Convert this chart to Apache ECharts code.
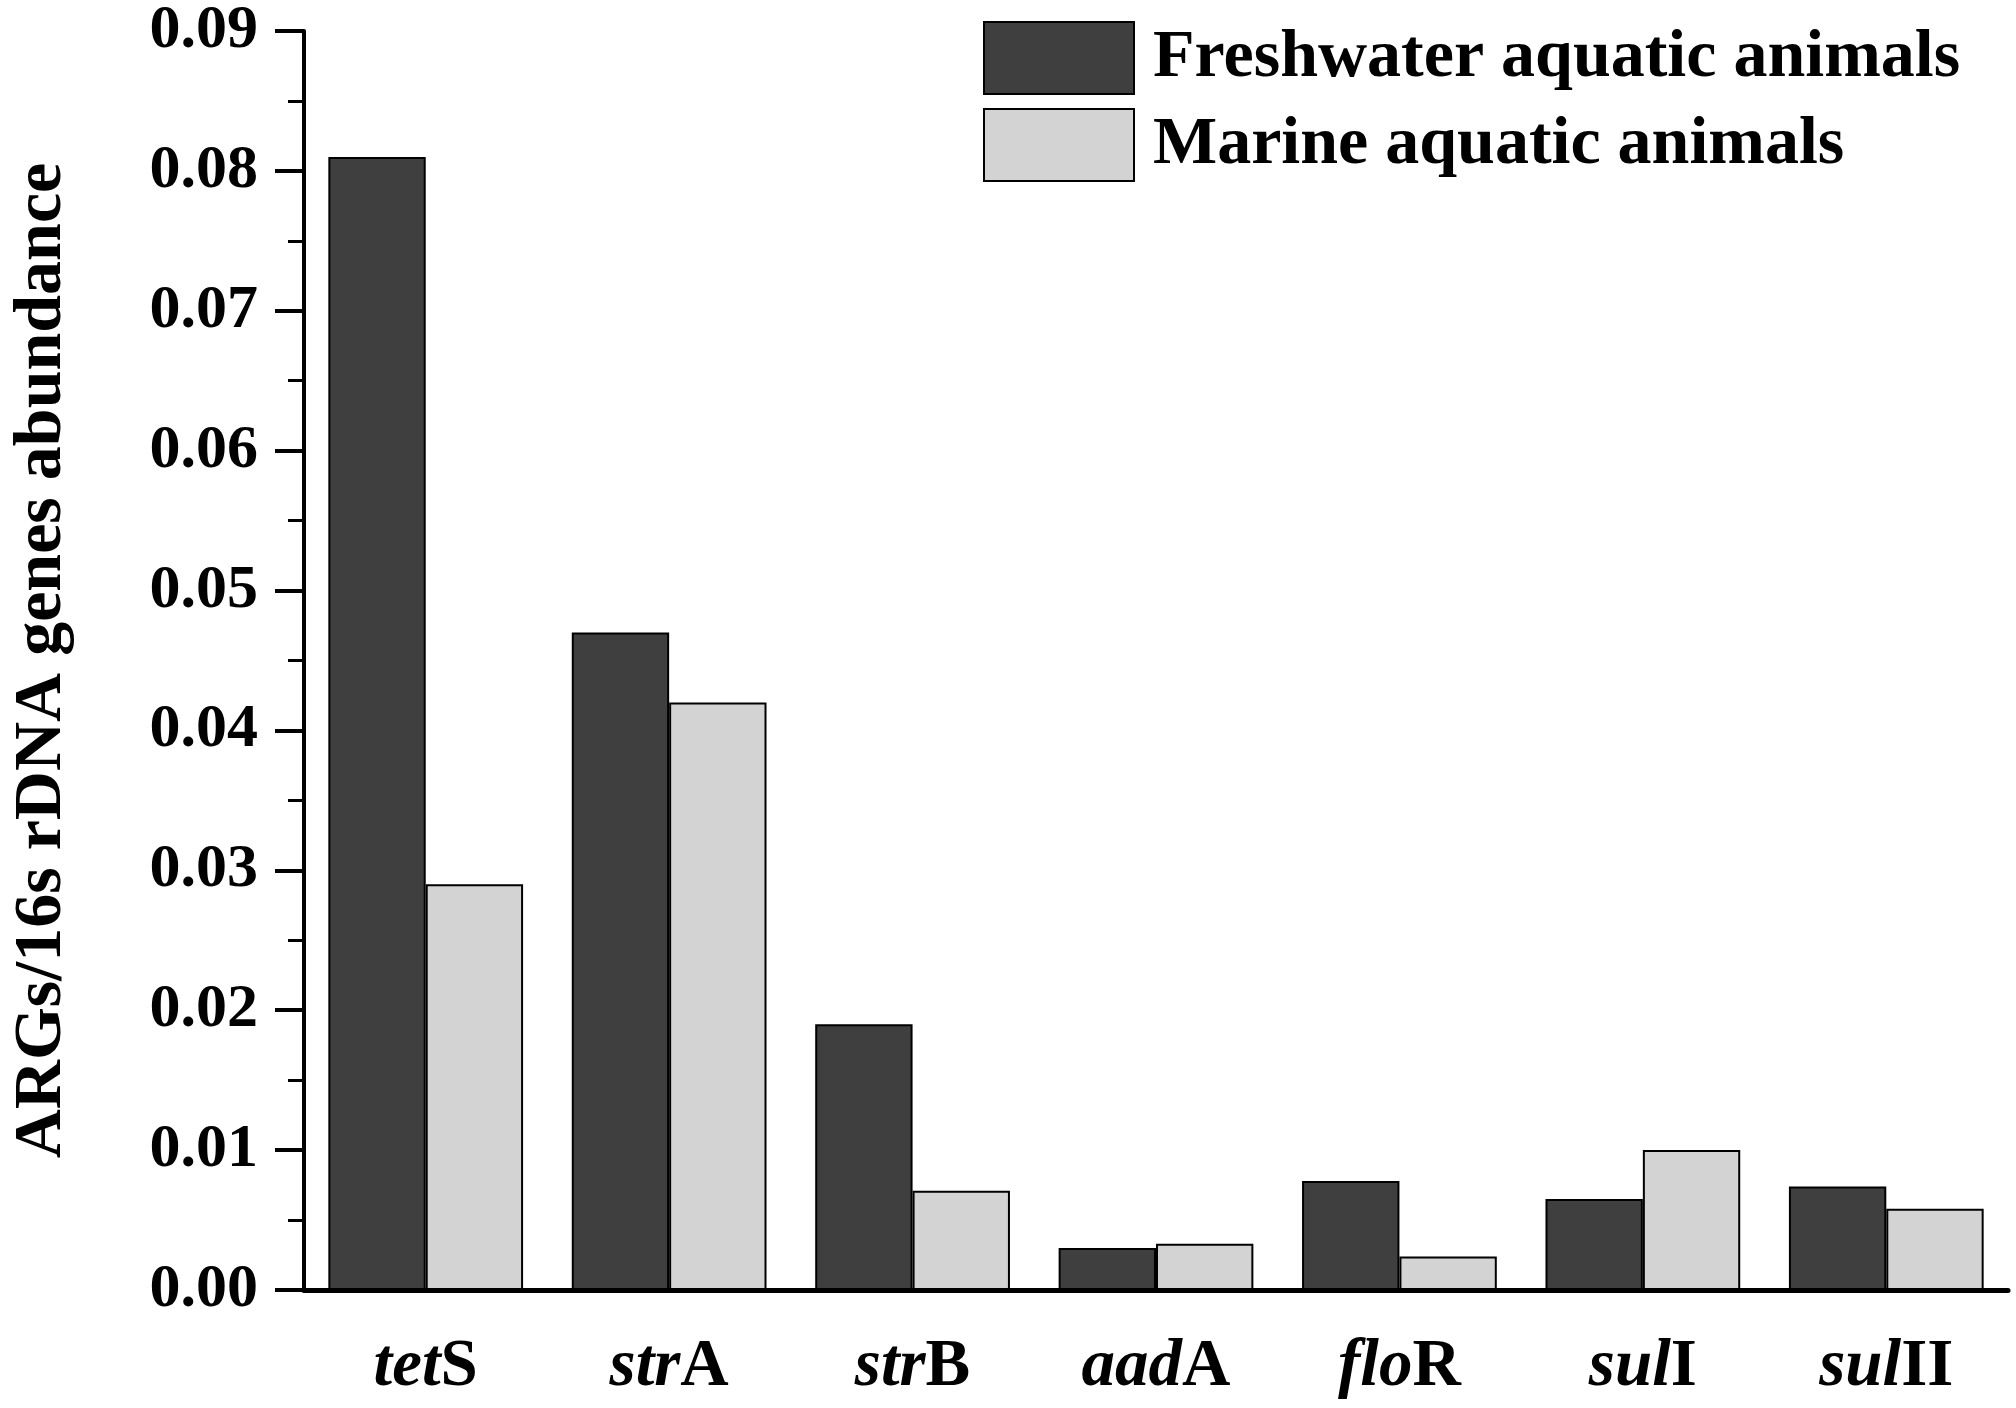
<!DOCTYPE html>
<html>
<head>
<meta charset="utf-8">
<script src="https://cdn.jsdelivr.net/npm/echarts@6/dist/echarts.min.js"></script>
<style>
html,body{margin:0;padding:0;background:#fff;}
#chart{width:2016px;height:1408px;}
</style>
</head>
<body>
<div id="chart"></div>
<script>
const geneItalic = ['tet', 'str', 'str', 'aad', 'flo', 'sul', 'sul'];
const geneSuffix = ['S', 'A', 'B', 'A', 'R', 'I', 'II'];
const categories = ['tetS', 'strA', 'strB', 'aadA', 'floR', 'sulI', 'sulII'];
const freshwater = [0.081, 0.047, 0.019, 0.0030, 0.0078, 0.0065, 0.0074];
const marine = [0.029, 0.042, 0.0071, 0.0033, 0.0024, 0.0100, 0.0058];
const yTicks = { min: 0, max: 0.09, interval: 0.01 };
const seriesNames = ['Freshwater aquatic animals', 'Marine aquatic animals'];

const FONT = '"Liberation Serif", "Times New Roman", serif';
const chart = echarts.init(document.getElementById('chart'));

chart.setOption({
  animation: false,
  backgroundColor: '#ffffff',
  grid: { left: 293, right: 8, top: 28, bottom: 118 },
  legend: {
    orient: 'vertical',
    left: 978,
    top: 16,
    itemWidth: 150,
    itemHeight: 72,
    itemGap: 13,
    icon: 'rect',
    textStyle: {
      fontFamily: FONT,
      fontWeight: 'bold',
      fontSize: 68,
      lineHeight: 72,
      color: '#000',
      padding: [0, 0, 0, 14]
    },
    data: seriesNames
  },
  xAxis: [
    {
      type: 'category',
      data: categories,
      position: 'bottom',
      axisLine: { lineStyle: { color: '#000', width: 5 } },
      axisTick: { alignWithLabel: true, length: 28, lineStyle: { color: '#000', width: 4 } },
      axisLabel: {
        margin: 44,
        formatter: function (v, i) {
          return '{i|' + geneItalic[i] + '}{b|' + geneSuffix[i] + '}';
        },
        rich: {
          i: { fontFamily: FONT, fontWeight: 'bold', fontStyle: 'italic', fontSize: 67, color: '#000' },
          b: { fontFamily: FONT, fontWeight: 'bold', fontSize: 67, color: '#000' }
        }
      },
      splitLine: { show: false }
    },
    {
      type: 'category',
      data: categories,
      position: 'bottom',
      axisLine: { show: false },
      axisTick: { alignWithLabel: false, length: 15, lineStyle: { color: '#000', width: 3 } },
      axisLabel: { show: false },
      splitLine: { show: false }
    }
  ],
  yAxis: {
    type: 'value',
    min: yTicks.min,
    max: yTicks.max,
    interval: yTicks.interval,
    name: 'ARGs/16s rDNA genes abundance',
    nameLocation: 'middle',
    nameGap: 228,
    nameTextStyle: { fontFamily: FONT, fontWeight: 'bold', fontSize: 68, color: '#000' },
    axisLine: { show: true, lineStyle: { color: '#000', width: 4 } },
    axisTick: { show: true, length: 29, lineStyle: { color: '#000', width: 4 } },
    minorTick: { show: true, splitNumber: 2, length: 16, lineStyle: { color: '#000', width: 3 } },
    axisLabel: {
      margin: 46,
      fontFamily: FONT,
      fontWeight: 'bold',
      fontSize: 62,
      color: '#000',
      formatter: function (v) { return v.toFixed(2); }
    },
    splitLine: { show: false }
  },
  series: [
    {
      name: seriesNames[0],
      type: 'bar',
      xAxisIndex: 0,
      data: freshwater,
      barGap: '0%',
      barCategoryGap: '20%',
      itemStyle: { color: '#3f3f3f', borderColor: '#000', borderWidth: 2 }
    },
    {
      name: seriesNames[1],
      type: 'bar',
      xAxisIndex: 0,
      data: marine,
      barGap: '0%',
      barCategoryGap: '20%',
      itemStyle: { color: '#d3d3d3', borderColor: '#000', borderWidth: 2 }
    }
  ]
});
</script>
</body>
</html>
